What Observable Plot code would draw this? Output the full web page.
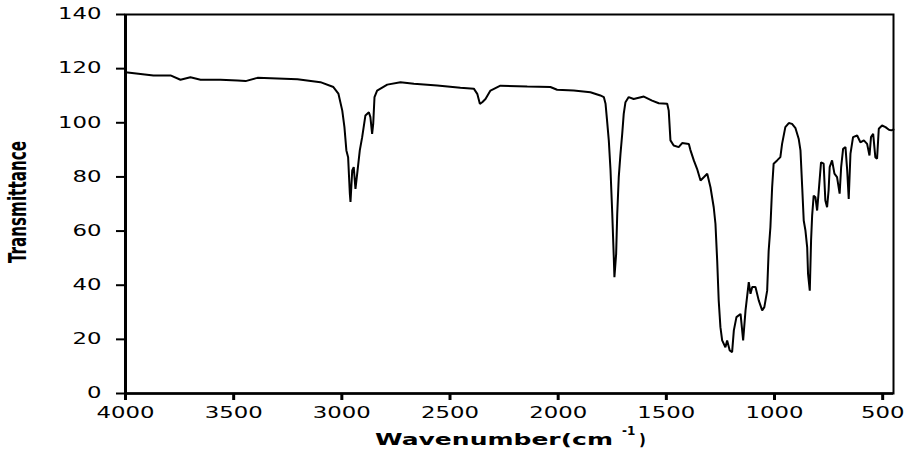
<!DOCTYPE html>
<html>
<head>
<meta charset="utf-8">
<script src="https://cdn.jsdelivr.net/npm/d3@7"></script>
<script src="https://cdn.jsdelivr.net/npm/@observablehq/plot@0.6"></script>
<style>
  html, body { margin: 0; padding: 0; background: #fff; }
  #chart svg { display: block; }
</style>
</head>
<body>
<div id="chart"></div>
<script>
// IR spectrum: wavenumber (cm^-1) and transmittance
const wavenumber = [
  4000, 3871, 3792, 3746, 3700, 3653, 3561, 3482, 3445, 3390, 3205, 3099, 3039, 3016,
  2998, 2988, 2979, 2971, 2963, 2960, 2952, 2945, 2937, 2929, 2917, 2906, 2891, 2875,
  2868, 2860, 2855, 2849, 2837, 2790, 2729, 2667, 2559, 2452, 2390, 2374, 2362, 2351,
  2336, 2313, 2267, 2143, 2036, 2005, 1928, 1851, 1805, 1789, 1781, 1774, 1766, 1758,
  1750, 1743, 1740, 1732, 1727, 1720, 1712, 1704, 1697, 1689, 1674, 1651, 1604, 1566,
  1535, 1496, 1489, 1481, 1466, 1443, 1427, 1396, 1389, 1373, 1358, 1342, 1327, 1311,
  1296, 1281, 1273, 1265, 1258, 1250, 1242, 1227, 1219, 1207, 1196, 1188, 1176, 1157,
  1145, 1134, 1119, 1111, 1103, 1088, 1073, 1057, 1047, 1034, 1027, 1019, 1011, 1004,
  988, 973, 965, 950, 934, 919, 903, 888, 880, 872, 865, 857, 849, 845, 837, 831, 826,
  819, 811, 803, 796, 785, 773, 765, 757, 750, 745, 734, 723, 711, 699, 692, 683, 672,
  664, 657, 649, 637, 618, 603, 587, 572, 561, 554, 544, 534, 526, 518, 503, 487, 471,
  460, 450
];
const transmittance = [
  118.7, 117.5, 117.5, 115.9, 116.8, 115.9, 115.9, 115.6, 115.4, 116.6, 116.1, 115.0, 113.2, 110.8,
  104.5, 98.4, 89.8, 87.3, 73.8, 70.8, 82.4, 83.6, 75.6, 81.2, 89.8, 94.7, 102.7, 103.9,
  102.1, 95.9, 99.6, 109.5, 111.9, 114.1, 115.0, 114.4, 113.8, 112.9, 112.6, 110.7, 107.0, 107.6,
  108.8, 111.9, 113.7, 113.4, 113.2, 112.2, 111.9, 111.3, 110.1, 109.5, 107.0, 100.8, 93.5, 82.4,
  66.4, 50.4, 43.0, 51.6, 66.4, 79.9, 88.5, 95.9, 103.3, 107.6, 109.5, 108.8, 109.7, 108.2,
  107.2, 107.0, 104.5, 93.5, 91.6, 91.0, 92.5, 92.2, 90.0, 86.1, 83.0, 78.7, 79.9, 81.2,
  76.2, 68.8, 62.7, 49.1, 34.4, 24.5, 19.6, 17.1, 19.6, 15.9, 15.3, 23.3, 28.2, 29.4,
  19.6, 30.7, 41.1, 36.8, 39.3, 39.3, 34.4, 30.7, 31.9, 38.0, 52.8, 61.4, 76.2, 84.9,
  86.1, 87.3, 92.2, 98.4, 99.9, 99.6, 98.0, 94.0, 89.8, 76.2, 63.9, 60.2, 54.0, 44.2, 38.0, 56.5, 65.8,
  73.1, 72.5, 67.6, 74.4, 85.4, 84.9, 71.3, 68.8, 75.0, 83.6, 86.1, 81.2, 79.9, 73.8, 83.6, 90.4, 91.0,
  82.4, 71.9, 88.5, 94.7, 95.3, 92.8, 93.5, 92.2, 87.9, 94.7, 95.9, 87.3, 86.7, 97.8, 99.0, 98.4, 97.4,
  97.2, 97.5
];

const xTicks = [4000, 3500, 3000, 2500, 2000, 1500, 1000, 500];
const yTicks = [0, 20, 40, 60, 80, 100, 120, 140];

const spectrum = wavenumber.map((w, i) => ({w, t: transmittance[i]}));

const chart = Plot.plot({
  width: 911,
  height: 468,
  marginLeft: 125,
  marginRight: 18,
  marginTop: 14,
  marginBottom: 75,
  style: {fontFamily: "'DejaVu Sans', sans-serif", fontSize: "15px", color: "#000", background: "#fff"},
  x: {domain: [4000, 450], label: null},
  y: {domain: [0, 140], label: null},
  marks: [
    Plot.frame({stroke: "#000", strokeWidth: 2}),
    Plot.line(spectrum, {x: "w", y: "t", stroke: "#000", strokeWidth: 2, strokeLinejoin: "miter"}),
    Plot.ruleX([4000], {stroke: "#000", strokeWidth: 3}),
    Plot.ruleY([0], {stroke: "#000", strokeWidth: 2.5}),
    Plot.axisX({ticks: xTicks, tickSize: 7, tickPadding: 7, strokeWidth: 3, tickFormat: d => String(d), label: null}),
    Plot.axisY({ticks: yTicks, tickSize: 9, tickPadding: 15, strokeWidth: 2, tickFormat: d => String(d), label: null})
  ]
});

const svg = d3.select(chart);

// wide tick numerals
svg.selectAll("g[aria-label='x-axis tick label'] text, g[aria-label='y-axis tick label'] text")
  .each(function() {
    const s = this.textContent;
    d3.select(this).attr("textLength", s.length * 14.5).attr("lengthAdjust", "spacingAndGlyphs");
  });

// axis titles
const xt = svg.append("g")
  .attr("font-family", "'DejaVu Sans', sans-serif")
  .attr("font-weight", "bold")
  .attr("text-anchor", "start")
  .attr("fill", "#000");
xt.append("text").attr("x", 375).attr("y", 445).attr("font-size", 15)
  .attr("textLength", 238).attr("lengthAdjust", "spacingAndGlyphs").text("Wavenumber(cm");
xt.append("text").attr("x", 622).attr("y", 435).attr("font-size", 12).text("-1");
xt.append("text").attr("x", 639).attr("y", 445).attr("font-size", 15).text(")");

svg.append("text")
  .attr("transform", "translate(26,202) rotate(-90)")
  .attr("text-anchor", "middle")
  .attr("font-family", "'Liberation Sans Narrow', 'DejaVu Sans Condensed', sans-serif")
  .attr("font-weight", "bold")
  .attr("font-size", 24)
  .attr("textLength", 122)
  .attr("lengthAdjust", "spacingAndGlyphs")
  .attr("fill", "#000")
  .text("Transmittance");

document.getElementById("chart").append(chart);
</script>
</body>
</html>
